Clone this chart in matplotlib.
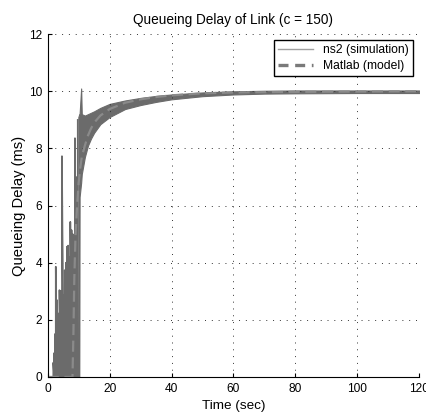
import numpy as np
import matplotlib.pyplot as plt

plt.rcParams['font.family'] = ['Liberation Sans', 'DejaVu Sans']

# ns2 simulation: early spikes (time, peak delay)
spike_t = [1.8, 2.1, 2.3, 2.6, 2.9, 3.2, 3.5, 3.8, 4.2, 4.6, 5.1, 5.5, 5.9,
           6.2, 6.6, 7.0, 7.3, 7.7, 8.1, 8.5, 8.8, 9.1, 9.4, 9.7]
spike_v = [0.5, 0.84, 1.5, 3.86, 2.7, 2.24, 2.0, 3.04, 3.0, 7.73, 2.87, 3.74,
           4.0, 4.56, 4.6, 4.2, 5.43, 5.14, 5.0, 4.8, 8.36, 6.8, 7.0, 9.0]

# ns2 simulation: oscillation band after the queue builds up
band_t = [9.9, 10.2, 10.3, 10.8, 11, 12, 13, 14, 15, 17, 20, 25, 30, 35, 40,
          50, 60, 70, 80, 100, 120]
band_hi = [9.1, 9.2, 9.2, 10.1, 9.2, 9.15, 9.2, 9.25, 9.3, 9.42, 9.56, 9.68,
           9.77, 9.84, 9.89, 9.96, 10.0, 10.02, 10.03, 10.03, 10.03]
band_lo = [0.0, 0.0, 6.3, 6.8, 7.1, 7.7, 8.1, 8.35, 8.55, 8.85, 9.1, 9.38,
           9.52, 9.63, 9.72, 9.83, 9.89, 9.92, 9.93, 9.94, 9.94]

# Matlab model
model_t = [0, 8.0, 8.3, 8.6, 9.0, 9.5, 10, 10.5, 11, 12, 13, 14, 15, 17, 20,
           25, 30, 35, 40, 50, 60, 80, 100, 120]
model_v = [0, 0, 1.5, 3.5, 5.0, 6.0, 6.8, 7.3, 7.7, 8.1, 8.45, 8.7, 8.9, 9.15,
           9.38, 9.6, 9.72, 9.8, 9.86, 9.93, 9.96, 9.98, 9.99, 10.0]

gray = '#6b6b6b'

fig = plt.figure(figsize=(4.26, 4.17), dpi=100)
ax = fig.add_axes([0.112, 0.096, 0.872, 0.822])

# spikes drawn as a zig-zag line between zero and each peak
zz_t = np.repeat(spike_t, 2)
zz_v = np.ravel(np.column_stack([np.zeros(len(spike_v)), spike_v]))
ax.fill_between(zz_t, 0, zz_v, color=gray, lw=0)
ax.plot(zz_t, zz_v, color=gray, lw=1.2)
ax.fill_between(band_t, band_lo, band_hi, color=gray, lw=0.8, edgecolor=gray)

ax.plot(model_t, model_v, color='#8a8a8a', lw=1.6, ls=(0, (5, 2.5)))

# legend proxies
ax.plot([], [], color='#a0a0a0', lw=1, label='ns2 (simulation)')
ax.plot([], [], color='#7a7a7a', lw=2.4, ls=(0, (3, 2)), label='Matlab (model)')
h, l = ax.get_legend_handles_labels()
leg = ax.legend(h[-2:], l[-2:], loc='upper right', fontsize=8.7, fancybox=False,
                framealpha=1, edgecolor='black', borderpad=0.35,
                handlelength=2.9, labelspacing=0.3, borderaxespad=0.5)
leg.get_frame().set_linewidth(1.0)

ax.set_xlim(0, 120)
ax.set_ylim(0, 12)
ax.set_xticks([0, 20, 40, 60, 80, 100, 120])
ax.set_yticks([0, 2, 4, 6, 8, 10, 12])
ax.grid(True, color='#333333', ls=(0, (1, 6)), lw=0.7)
ax.tick_params(direction='in', labelsize=8.6, length=3, pad=4)
for s in ['top', 'right']:
    ax.spines[s].set_visible(False)

ax.set_title('Queueing Delay of Link (c = 150)', fontsize=9.8, pad=7)
ax.set_xlabel('Time (sec)', fontsize=9.7, labelpad=4)
ax.set_ylabel('Queueing Delay (ms)', fontsize=10.6, labelpad=2)

fig.savefig('out.png', dpi=100)
